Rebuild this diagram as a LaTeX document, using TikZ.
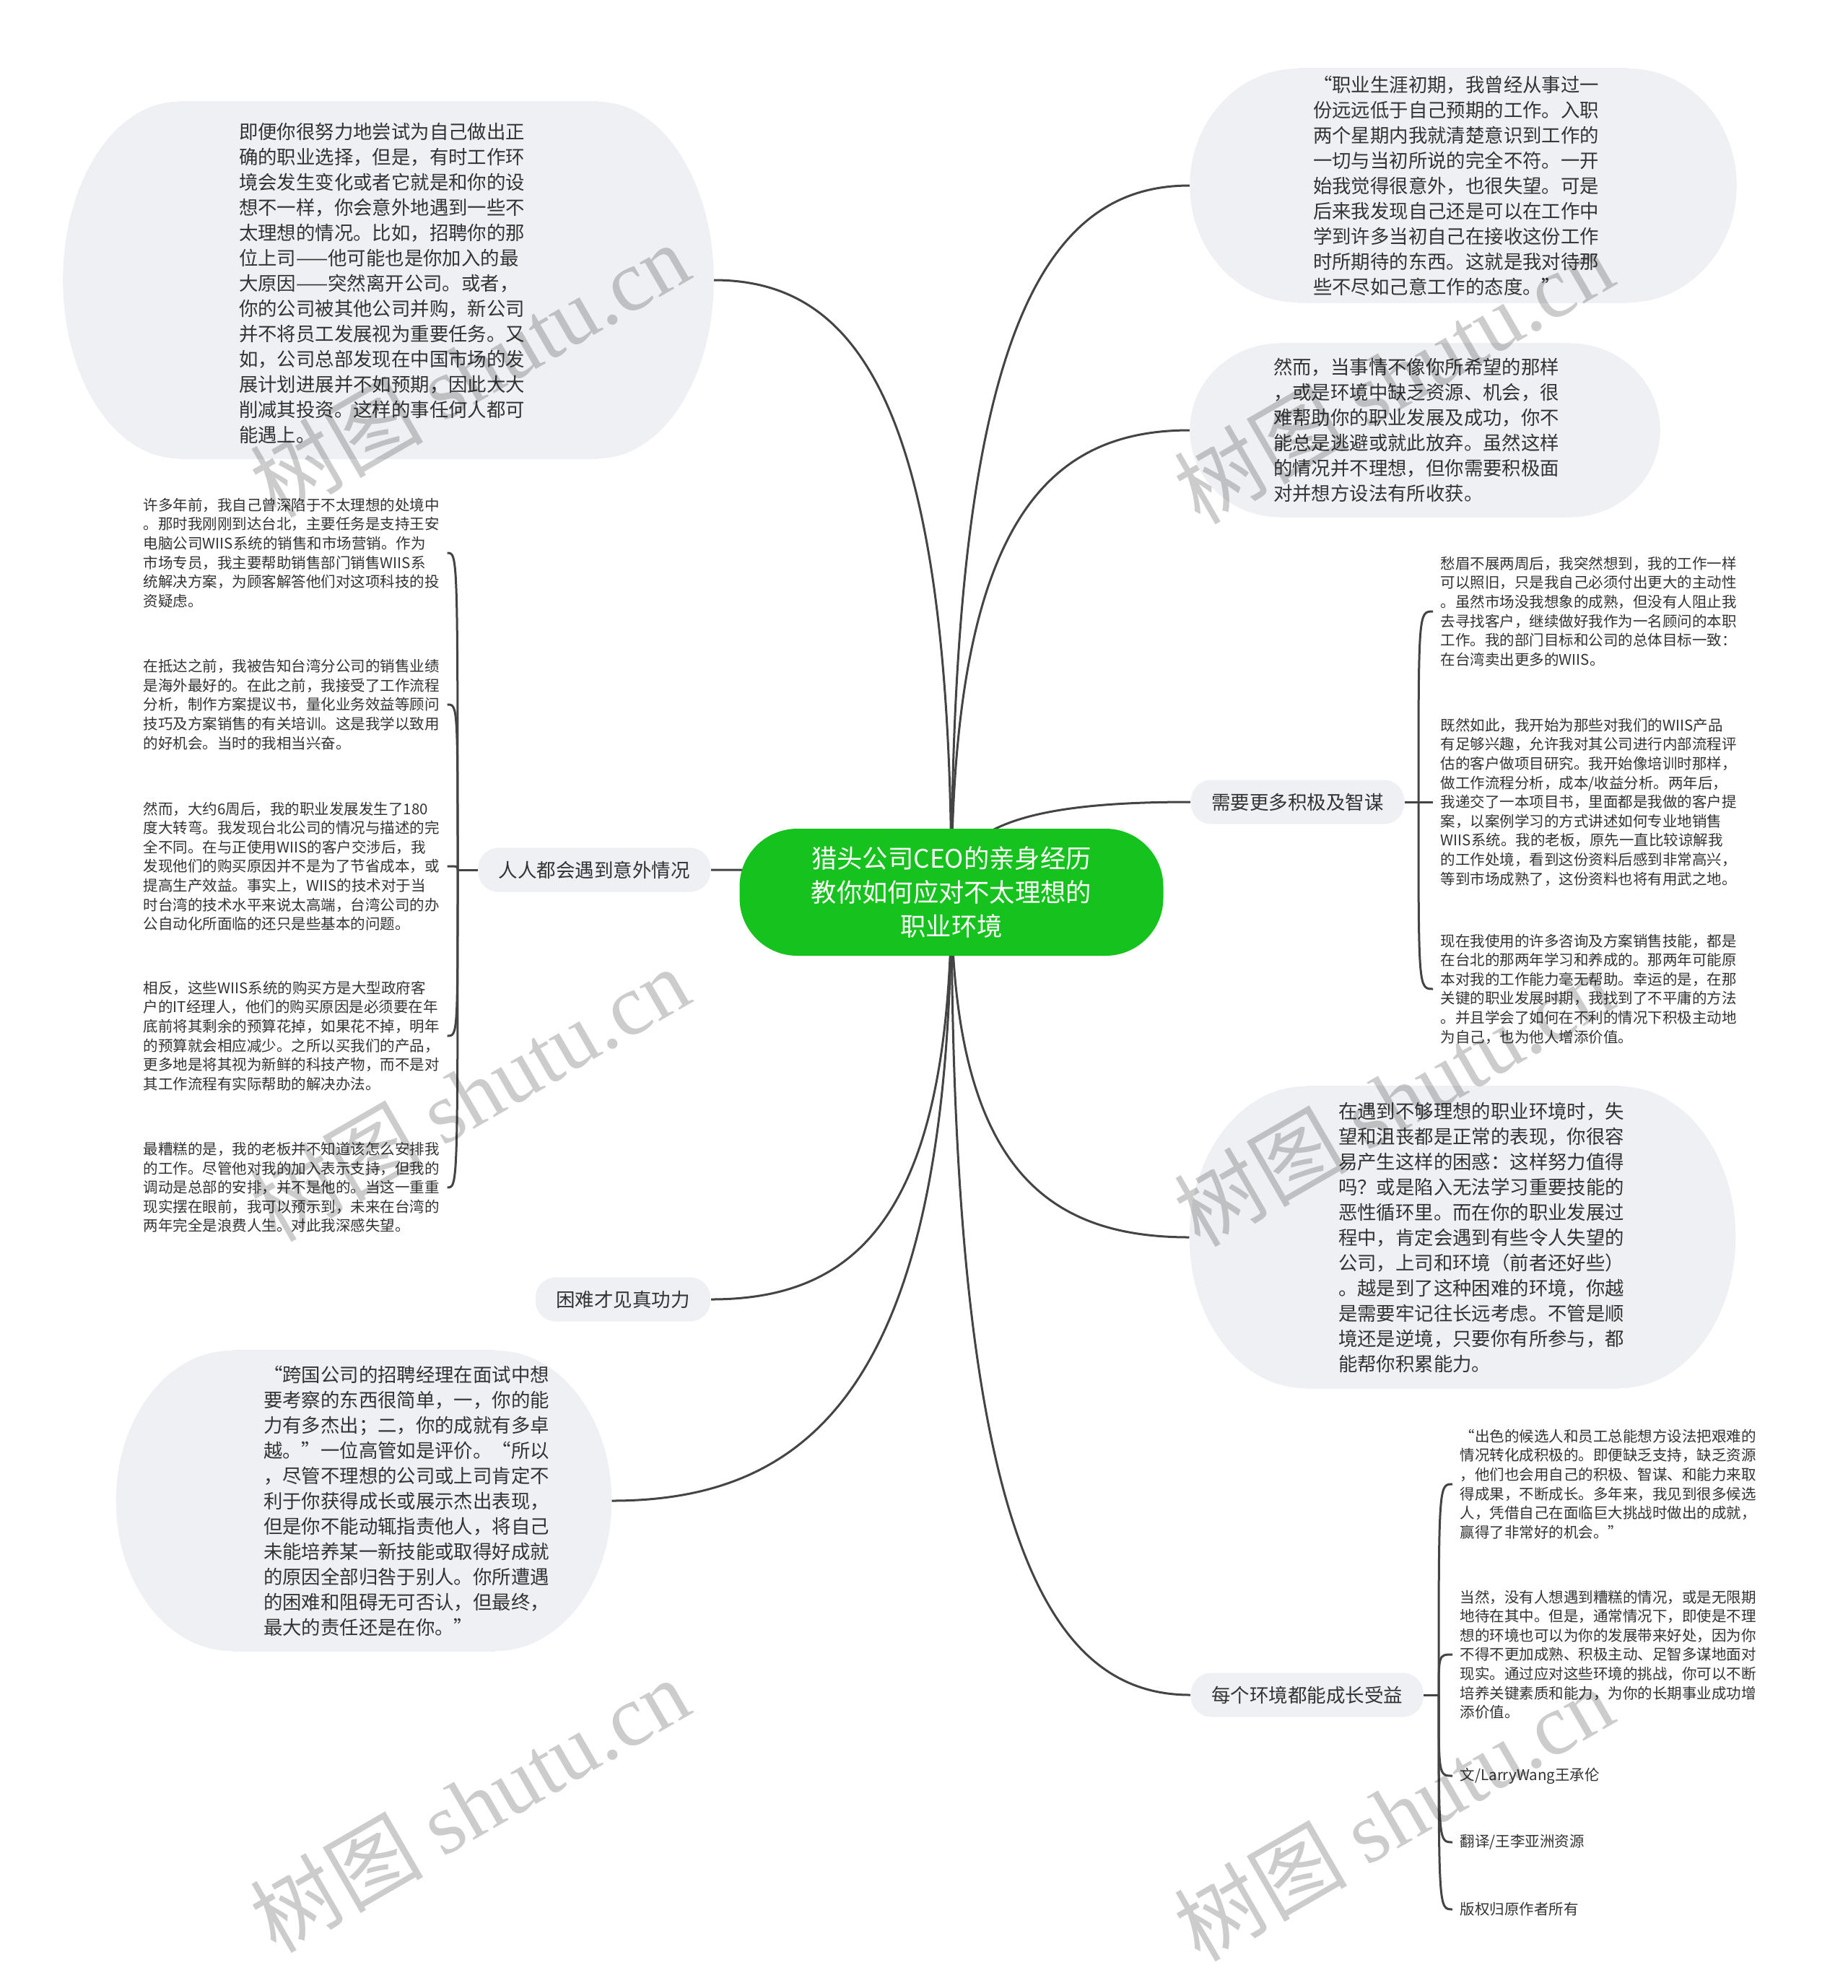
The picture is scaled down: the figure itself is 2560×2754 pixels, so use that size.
\documentclass[tikz,border=0pt]{standalone}
\usepackage{fontspec}
\setmainfont{Noto Sans CJK SC}
\newfontfamily\wmlatin{Liberation Serif}
\newfontfamily\wmcjk{Noto Sans CJK SC}
\usetikzlibrary{calc,backgrounds}
\definecolor{bub}{HTML}{EEF0F3}
\definecolor{txt}{HTML}{333333}
\definecolor{lnk}{HTML}{444444}
\definecolor{rootg}{HTML}{16C21D}
\newcommand\rootlink[1]{\draw[conn] (root.center) .. controls ($(root.center)!0.8!(root.center|-#1)$) and ($(#1)!0.6!(#1-|root.center)$) .. (#1);}
\newcommand\kidlink[2]{\draw[conn] (#1) .. controls (#1|-#2) .. (#2);}
\newcommand\blob[3]{%
 \fill[bub] ($(#1.north west)+(#2,0)$) rectangle ($(#1.south east)+(-#2,0)$);
 \fill[bub] ($(#1.west)+(#2,0)$) ellipse[x radius=#2,y radius=#3];
 \fill[bub] ($(#1.east)+(-#2,0)$) ellipse[x radius=#2,y radius=#3];}
\begin{document}
\begin{tikzpicture}[x=0.25pt,y=-0.25pt,
 bigtxt/.style={align=left,inner sep=0pt,text=txt,font=\fontsize{6.6pt}{8.75pt}\selectfont},
 smalltxt/.style={align=left,anchor=west,inner xsep=2.5pt,inner ysep=0pt,text=txt,font=\fontsize{5.125pt}{6.65pt}\selectfont},
 bubble/.style={inner sep=0pt},
 topic/.style={fill=bub,rounded corners=7pt,minimum height=15.25pt,inner xsep=7.1pt,inner ysep=0pt,text=txt,font=\fontsize{6.625pt}{8pt}\selectfont},
 conn/.style={draw=lnk,line width=0.75pt},
 wmark/.style={rotate=30,text=black,text opacity=0.2,font=\fontsize{30pt}{30pt}\selectfont}]
\useasboundingbox (0,0) rectangle (2560,2754);

% root
\node[fill=rootg,rounded corners=20pt,minimum width=146.75pt,minimum height=44pt,align=center,text=white,font=\fontsize{8.83pt}{11.75pt}\selectfont] (root) at (1318,1236) {猎头公司CEO的亲身经历\\教你如何应对不太理想的\\职业环境};

% top-left bubble
\node[bubble,minimum width=225pt,minimum height=123.5pt] (T1) at (538,388) {};
\blob{T1}{160}{247}
\node[bigtxt] (T1x) at (529,392) {即便你很努力地尝试为自己做出正\\确的职业选择，但是，有时工作环\\境会发生变化或者它就是和你的设\\想不一样，你会意外地遇到一些不\\太理想的情况。比如，招聘你的那\\位上司——他可能也是你加入的最\\大原因——突然离开公司。或者，\\你的公司被其他公司并购，新公司\\并不将员工发展视为重要任务。又\\如，公司总部发现在中国市场的发\\展计划进展并不如预期，因此大大\\削减其投资。这样的事任何人都可\\能遇上。};

% left topic 1
\node[topic,anchor=east] (L1) at (985,1205) {人人都会遇到意外情况};
\coordinate (L1t) at (634,1205);
\node[smalltxt] (B1) at (188,766) {许多年前，我自己曾深陷于不太理想的处境中\\。那时我刚刚到达台北，主要任务是支持王安\\电脑公司WIIS系统的销售和市场营销。作为\\市场专员，我主要帮助销售部门销售WIIS系\\统解决方案，为顾客解答他们对这项科技的投\\资疑虑。};
\node[smalltxt] (B2) at (188,976) {在抵达之前，我被告知台湾分公司的销售业绩\\是海外最好的。在此之前，我接受了工作流程\\分析，制作方案提议书，量化业务效益等顾问\\技巧及方案销售的有关培训。这是我学以致用\\的好机会。当时的我相当兴奋。};
\node[smalltxt] (B3) at (188,1200) {然而，大约6周后，我的职业发展发生了180\\度大转弯。我发现台北公司的情况与描述的完\\全不同。在与正使用WIIS的客户交涉后，我\\发现他们的购买原因并不是为了节省成本，或\\提高生产效益。事实上，WIIS的技术对于当\\时台湾的技术水平来说太高端，台湾公司的办\\公自动化所面临的还只是些基本的问题。};
\node[smalltxt] (B4) at (188,1435) {相反，这些WIIS系统的购买方是大型政府客\\户的IT经理人，他们的购买原因是必须要在年\\底前将其剩余的预算花掉，如果花不掉，明年\\的预算就会相应减少。之所以买我们的产品，\\更多地是将其视为新鲜的科技产物，而不是对\\其工作流程有实际帮助的解决办法。};
\node[smalltxt] (B5) at (188,1645) {最糟糕的是，我的老板并不知道该怎么安排我\\的工作。尽管他对我的加入表示支持，但我的\\调动是总部的安排，并不是他的。当这一重重\\现实摆在眼前，我可以预示到，未来在台湾的\\两年完全是浪费人生。对此我深感失望。};

% left topic 2
\node[topic,anchor=east] (L2) at (985,1800) {困难才见真功力};

% bottom-left bubble
\node[bubble,minimum width=171.25pt,minimum height=104pt] (L3) at (504,2079) {};
\blob{L3}{160}{208}
\node[bigtxt] (L3x) at (563,2079) {“跨国公司的招聘经理在面试中想\\要考察的东西很简单，一，你的能\\力有多杰出；二，你的成就有多卓\\越。”一位高管如是评价。“所以\\，尽管不理想的公司或上司肯定不\\利于你获得成长或展示杰出表现，\\但是你不能动辄指责他人，将自己\\未能培养某一新技能或取得好成就\\的原因全部归咎于别人。你所遭遇\\的困难和阻碍无可否认，但最终，\\最大的责任还是在你。”};

% top-right bubble
\node[bubble,minimum width=189pt,minimum height=81pt] (R1) at (2027,257) {};
\blob{R1}{150}{162}
\node[bigtxt] (R1x) at (2017,257) {“职业生涯初期，我曾经从事过一\\份远远低于自己预期的工作。入职\\两个星期内我就清楚意识到工作的\\一切与当初所说的完全不符。一开\\始我觉得很意外，也很失望。可是\\后来我发现自己还是可以在工作中\\学到许多当初自己在接收这份工作\\时所期待的东西。这就是我对待那\\些不尽如己意工作的态度。”};

% second right bubble
\node[bubble,minimum width=162.5pt,minimum height=60.25pt] (R2) at (1974,596) {};
\blob{R2}{125}{120.5}
\node[bigtxt] (R2x) at (1962,596) {然而，当事情不像你所希望的那样\\，或是环境中缺乏资源、机会，很\\难帮助你的职业发展及成功，你不\\能总是逃避或就此放弃。虽然这样\\的情况并不理想，但你需要积极面\\对并想方设法有所收获。};

% right topic 3
\node[topic,anchor=west] (R3) at (1649,1111) {需要更多积极及智谋};
\coordinate (R3t) at (1965,1111);
\node[smalltxt] (R3a) at (1985,847) {愁眉不展两周后，我突然想到，我的工作一样\\可以照旧，只是我自己必须付出更大的主动性\\。虽然市场没我想象的成熟，但没有人阻止我\\去寻找客户，继续做好我作为一名顾问的本职\\工作。我的部门目标和公司的总体目标一致：\\在台湾卖出更多的WIIS。};
\node[smalltxt] (R3b) at (1985,1111) {既然如此，我开始为那些对我们的WIIS产品\\有足够兴趣，允许我对其公司进行内部流程评\\估的客户做项目研究。我开始像培训时那样，\\做工作流程分析，成本/收益分析。两年后，\\我递交了一本项目书，里面都是我做的客户提\\案，以案例学习的方式讲述如何专业地销售\\WIIS系统。我的老板，原先一直比较谅解我\\的工作处境，看到这份资料后感到非常高兴，\\等到市场成熟了，这份资料也将有用武之地。};
\node[smalltxt] (R3c) at (1985,1370) {现在我使用的许多咨询及方案销售技能，都是\\在台北的那两年学习和养成的。那两年可能原\\本对我的工作能力毫无帮助。幸运的是，在那\\关键的职业发展时期，我找到了不平庸的方法\\。并且学会了如何在不利的情况下积极主动地\\为自己，也为他人增添价值。};

% right bubble 4
\node[bubble,minimum width=188.75pt,minimum height=104.5pt] (R4) at (2026,1714) {};
\blob{R4}{160}{209}
\node[bigtxt] (R4x) at (2052,1714) {在遇到不够理想的职业环境时，失\\望和沮丧都是正常的表现，你很容\\易产生这样的困惑：这样努力值得\\吗？或是陷入无法学习重要技能的\\恶性循环里。而在你的职业发展过\\程中，肯定会遇到有些令人失望的\\公司，上司和环境（前者还好些）\\。越是到了这种困难的环境，你越\\是需要牢记往长远考虑。不管是顺\\境还是逆境，只要你有所参与，都\\能帮你积累能力。};

% right topic 5
\node[topic,anchor=west] (R5) at (1649,2348) {每个环境都能成长受益};
\coordinate (R5t) at (1993,2348);
\node[smalltxt] (C1) at (2012,2056) {“出色的候选人和员工总能想方设法把艰难的\\情况转化成积极的。即便缺乏支持，缺乏资源\\，他们也会用自己的积极、智谋、和能力来取\\得成果，不断成长。多年来，我见到很多候选\\人，凭借自己在面临巨大挑战时做出的成就，\\赢得了非常好的机会。”};
\node[smalltxt] (C2) at (2012,2292) {当然，没有人想遇到糟糕的情况，或是无限期\\地待在其中。但是，通常情况下，即使是不理\\想的环境也可以为你的发展带来好处，因为你\\不得不更加成熟、积极主动、足智多谋地面对\\现实。通过应对这些环境的挑战，你可以不断\\培养关键素质和能力，为你的长期事业成功增\\添价值。};
\node[smalltxt] (C3) at (2012,2460) {文/LarryWang王承伦};
\node[smalltxt] (C4) at (2012,2552) {翻译/王李亚洲资源};
\node[smalltxt] (C5) at (2012,2645) {版权归原作者所有};

\begin{pgfonlayer}{background}
\fill[white] (0,0) rectangle (2560,2754);
\rootlink{T1.east}
\rootlink{L1.east}
\rootlink{L2.east}
\rootlink{L3.east}
\rootlink{R1.west}
\rootlink{R2.west}
\rootlink{R3.west}
\rootlink{R4.west}
\rootlink{R5.west}
\draw[conn] (L1.west) -- (L1t);
\kidlink{L1t}{B1.east}
\kidlink{L1t}{B2.east}
\kidlink{L1t}{B3.east}
\kidlink{L1t}{B4.east}
\kidlink{L1t}{B5.east}
\draw[conn] (R3.east) -- (R3t);
\kidlink{R3t}{R3a.west}
\kidlink{R3t}{R3b.west}
\kidlink{R3t}{R3c.west}
\draw[conn] (R5.east) -- (R5t);
\kidlink{R5t}{C1.west}
\kidlink{R5t}{C2.west}
\kidlink{R5t}{C3.west}
\kidlink{R5t}{C4.west}
\kidlink{R5t}{C5.west}
\end{pgfonlayer}

% watermarks
\node[wmark] (W1) at (650,512) {{\wmcjk 树图} {\wmlatin shutu.cn}};
\node[wmark] (W2) at (1930,521) {{\wmcjk 树图} {\wmlatin shutu.cn}};
\node[wmark] (W3) at (650,1515) {{\wmcjk 树图} {\wmlatin shutu.cn}};
\node[wmark] (W4) at (1930,1522) {{\wmcjk 树图} {\wmlatin shutu.cn}};
\node[wmark] (W5) at (650,2500) {{\wmcjk 树图} {\wmlatin shutu.cn}};
\node[wmark] (W6) at (1930,2512) {{\wmcjk 树图} {\wmlatin shutu.cn}};
\end{tikzpicture}
\end{document}
